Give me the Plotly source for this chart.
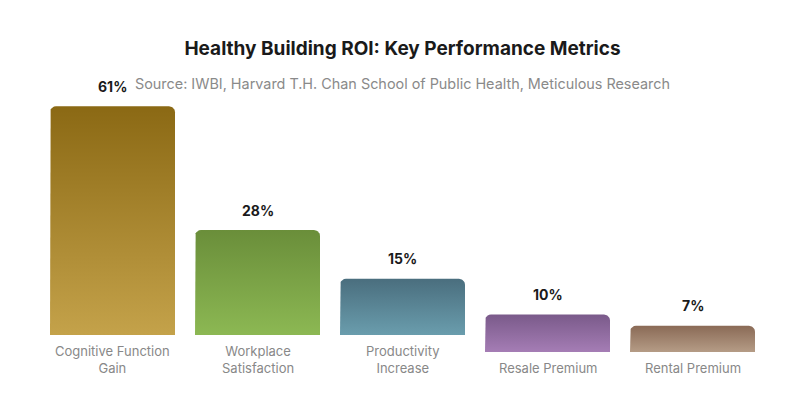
import math
import plotly.graph_objects as go

# ---- data ----
categories = ["Cognitive Function<br>Gain", "Workplace<br>Satisfaction",
              "Productivity<br>Increase", "Resale Premium", "Rental Premium"]
values = [61, 28, 15, 10, 7]
value_labels = ["61%", "28%", "15%", "10%", "7%"]
top_colors = ["#8B6914", "#6A8E3A", "#4A6E7E", "#7A5A8A", "#8A6A56"]
bottom_colors = ["#C4A24A", "#8CB853", "#6A9DAD", "#A57DB5", "#B59C86"]

# ---- layout geometry ----
W, H = 801, 397
ML, MR, MT, MB = 40, 36, 60, 40
PLOT_W = W - ML - MR
PLOT_H = H - MT - MB
ZERO_PX = 335           # pixel row of y=0 (from top)
PX_PER_UNIT = 3.75
YMIN = -((H - MB) - ZERO_PX) / PX_PER_UNIT
YMAX = YMIN + PLOT_H / PX_PER_UNIT
N = len(categories)
XMIN, XMAX = -0.5, N - 0.5
PX_PER_X = PLOT_W / (XMAX - XMIN)
BAR_W = 125 / PX_PER_X
RADIUS_PX = 6
LINE_PX = 17

FONT = "Inter, Roboto, sans-serif"

fig = go.Figure()

max_lines = max(c.count("<br>") + 1 for c in categories)
bases = [-(max_lines - (c.count("<br>") + 1)) * LINE_PX / PX_PER_UNIT for c in categories]

rx = RADIUS_PX / PX_PER_X
ry = RADIUS_PX / PX_PER_UNIT
for i, (v, base) in enumerate(zip(values, bases)):
    x0, x1 = i - BAR_W / 2, i + BAR_W / 2
    top = base + v
    xs, ys = [x0, x0], [base, top - ry]
    for k in range(0, 11):
        a = math.pi - k * (math.pi / 2) / 10
        xs.append(x0 + rx + rx * math.cos(a))
        ys.append(top - ry + ry * math.sin(a))
    for k in range(0, 11):
        a = math.pi / 2 - k * (math.pi / 2) / 10
        xs.append(x1 - rx + rx * math.cos(a))
        ys.append(top - ry + ry * math.sin(a))
    xs += [x1, x0]
    ys += [base, base]
    fig.add_trace(go.Scatter(
        x=xs, y=ys, mode="lines", fill="toself",
        line=dict(width=0, color="rgba(0,0,0,0)"),
        fillgradient=dict(type="vertical",
                          colorscale=[[0, bottom_colors[i]], [1, top_colors[i]]]),
        hoverinfo="skip", showlegend=False,
    ))
    fig.add_annotation(x=i, y=top, xref="x", yref="y", text=value_labels[i],
                       showarrow=False, yanchor="middle", yshift=20,
                       font=dict(family=FONT, size=14, color="#1a1a1a", weight="bold"))
    fig.add_annotation(x=i, y=base, xref="x", yref="y", text=categories[i],
                       showarrow=False, yanchor="top", yshift=-6,
                       font=dict(family=FONT, size=13, color="#888888"))

fig.add_annotation(x=0.5, xref="paper", y=(H - MB - 84) / PLOT_H, yref="paper",
                   text="Source: IWBI, Harvard T.H. Chan School of Public Health, Meticulous Research",
                   showarrow=False, yanchor="middle",
                   font=dict(family=FONT, size=14.4, color="#8a8a8a"))

fig.update_layout(
    width=W, height=H,
    margin=dict(l=ML, r=MR, t=MT, b=MB),
    paper_bgcolor="white", plot_bgcolor="white",
    title=dict(text="<b>Healthy Building ROI: Key Performance Metrics</b>",
               x=0.5, xref="paper", xanchor="center",
               y=1 - 48 / H, yref="container", yanchor="middle",
               font=dict(family=FONT, size=19, color="#1a1a1a")),
    xaxis=dict(range=[XMIN, XMAX], visible=False, fixedrange=True),
    yaxis=dict(range=[YMIN, YMAX], visible=False, fixedrange=True),
    showlegend=False,
)

fig.write_html("out.html", config={"displayModeBar": False},
               post_script="document.body.style.margin='0';document.body.style.overflow='hidden';")
